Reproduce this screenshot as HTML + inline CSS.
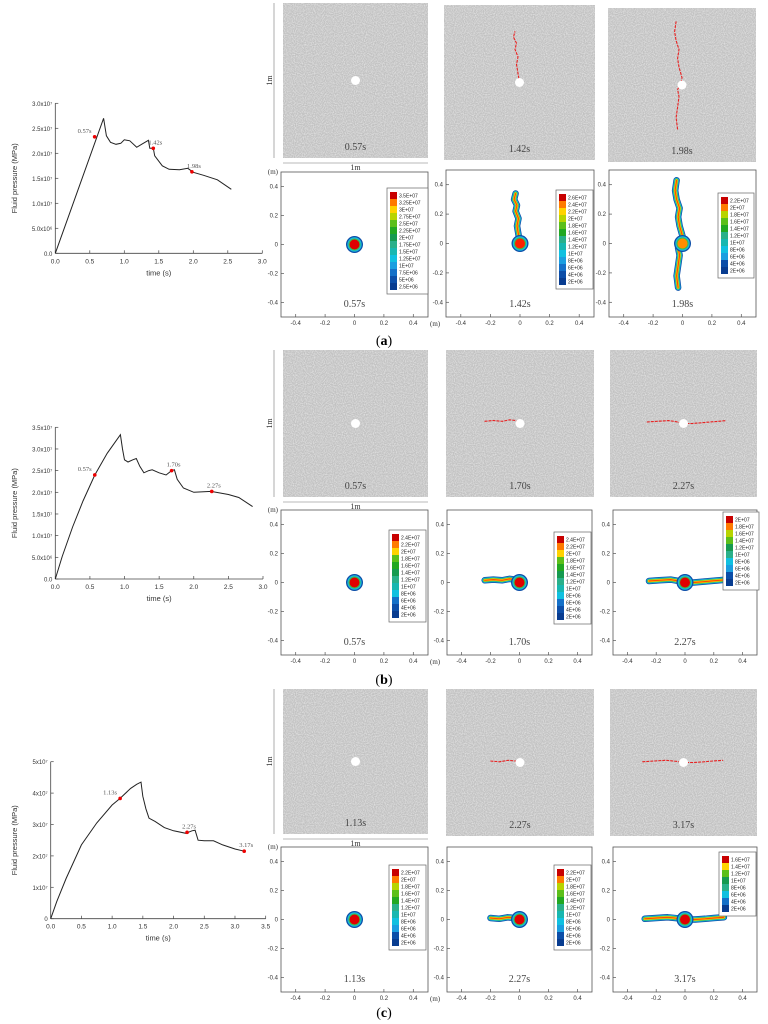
<!DOCTYPE html>
<html><head><meta charset="utf-8"><style>
html,body{margin:0;padding:0;background:#fff;}
svg{display:block;font-family:"Liberation Sans",sans-serif;}
.serif{font-family:"Liberation Serif",serif;}
</style></head><body>
<svg id="fig" width="768" height="1024" viewBox="0 0 768 1024" xmlns="http://www.w3.org/2000/svg">
<defs>
<filter id="grain" x="0" y="0" width="100%" height="100%">
<feTurbulence type="fractalNoise" baseFrequency="0.9" numOctaves="1" seed="3" result="n"/>
<feColorMatrix in="n" type="matrix" values="0 0 0 0 0.85  0 0 0 0 0.85  0 0 0 0 0.85  0 0 0 1.6 -0.6" result="c"/>
<feComposite in="c" in2="SourceGraphic" operator="in" result="d"/>
<feMerge><feMergeNode in="SourceGraphic"/><feMergeNode in="d"/></feMerge>
</filter>
</defs>
<text x="384" y="345" text-anchor="middle" font-size="14" class="serif">(<tspan font-weight="bold">a</tspan>)</text>
<text x="384" y="684" text-anchor="middle" font-size="14" class="serif">(<tspan font-weight="bold">b</tspan>)</text>
<text x="384" y="1017" text-anchor="middle" font-size="14" class="serif">(<tspan font-weight="bold">c</tspan>)</text>
</svg>
<script>
// ---- Line chart data (pressure in 1e7 Pa) ----
const timeA=[0,0.70,0.74,0.80,0.88,0.95,1.00,1.08,1.18,1.25,1.35,1.37,1.42,1.44,1.55,1.65,1.80,1.92,2.00,2.15,2.35,2.55];
const presA=[0,2.70,2.35,2.22,2.18,2.20,2.27,2.25,2.12,2.18,2.26,2.10,2.10,1.95,1.75,1.68,1.67,1.70,1.62,1.56,1.47,1.28];
const markTA=[0.57,1.42,1.98];
const markPA=[2.33,2.10,1.63];
const markLA=["0.57s","1.42s","1.98s"];
const yTicksA=["0.0","5.0x10⁶","1.0x10⁷","1.5x10⁷","2.0x10⁷","2.5x10⁷","3.0x10⁷"];
const yValsA=[0,0.5,1,1.5,2,2.5,3];
const xTicksA=[0,0.5,1,1.5,2,2.5,3];

const timeB=[0,0.10,0.25,0.40,0.57,0.75,0.94,0.97,1.00,1.05,1.12,1.17,1.22,1.28,1.35,1.40,1.50,1.60,1.68,1.72,1.76,1.85,2.00,2.25,2.50,2.65,2.85];
const presB=[0,0.52,1.20,1.80,2.40,2.90,3.33,3.00,2.75,2.70,2.75,2.78,2.60,2.45,2.50,2.52,2.45,2.40,2.50,2.52,2.30,2.10,2.00,2.02,1.95,1.88,1.67];
const markTB=[0.57,1.68,2.26];
const markPB=[2.40,2.50,2.02];
const markLB=["0.57s","1.70s","2.27s"];
const yTicksB=["0.0","5.0x10⁶","1.0x10⁷","1.5x10⁷","2.0x10⁷","2.5x10⁷","3.0x10⁷","3.5x10⁷"];
const yValsB=[0,0.5,1,1.5,2,2.5,3,3.5];
const xTicksB=[0,0.5,1,1.5,2,2.5,3];

const timeC=[0,0.10,0.25,0.50,0.75,1.00,1.13,1.30,1.40,1.47,1.50,1.55,1.60,1.70,1.85,2.00,2.20,2.30,2.35,2.40,2.50,2.65,2.80,3.00,3.15];
const presC=[0,0.55,1.28,2.35,3.05,3.62,3.83,4.15,4.28,4.35,3.90,3.50,3.20,3.10,2.90,2.80,2.72,2.80,2.82,2.50,2.48,2.48,2.35,2.22,2.15];
const markTC=[1.13,2.22,3.15];
const markPC=[3.83,2.75,2.15];
const markLC=["1.13s","2.27s","3.17s"];
const yTicksC=["0","1x10⁷","2x10⁷","3x10⁷","4x10⁷","5x10⁷"];
const yValsC=[0,1,2,3,4,5];
const xTicksC=[0,0.5,1,1.5,2,2.5,3,3.5];

// ---- Colorbar labels ----
const cbA1=["3.5E+07","3.25E+07","3E+07","2.75E+07","2.5E+07","2.25E+07","2E+07","1.75E+07","1.5E+07","1.25E+07","1E+07","7.5E+06","5E+06","2.5E+06"];
const cbA2=["2.6E+07","2.4E+07","2.2E+07","2E+07","1.8E+07","1.6E+07","1.4E+07","1.2E+07","1E+07","8E+06","6E+06","4E+06","2E+06"];
const cbA3=["2.2E+07","2E+07","1.8E+07","1.6E+07","1.4E+07","1.2E+07","1E+07","8E+06","6E+06","4E+06","2E+06"];
const cbB1=["2.4E+07","2.2E+07","2E+07","1.8E+07","1.6E+07","1.4E+07","1.2E+07","1E+07","8E+06","6E+06","4E+06","2E+06"];
const cbB3=["2E+07","1.8E+07","1.6E+07","1.4E+07","1.2E+07","1E+07","8E+06","6E+06","4E+06","2E+06"];
const cbC1=["2.2E+07","2E+07","1.8E+07","1.6E+07","1.4E+07","1.2E+07","1E+07","8E+06","6E+06","4E+06","2E+06"];
const cbC3=["1.6E+07","1.4E+07","1.2E+07","1E+07","8E+06","6E+06","4E+06","2E+06"];

// ---- Crack paths (m) ----
const crackA2x=[0,-0.01,-0.02,-0.01,-0.03,-0.02,-0.04,-0.03];
const crackA2y=[0,0.06,0.12,0.17,0.22,0.26,0.30,0.34];
const crackA3x=[-0.03,-0.04,-0.03,-0.02,-0.03,-0.01,0,-0.02,-0.03,-0.02,-0.04,-0.05,-0.04];
const crackA3y=[-0.30,-0.22,-0.15,-0.08,-0.03,0,0.05,0.12,0.18,0.24,0.30,0.36,0.43];
const crackB2x=[-0.24,-0.18,-0.12,-0.07,-0.03,0];
const crackB2y=[0.015,0.02,0.015,0.025,0.02,0];
const crackB3x=[-0.25,-0.18,-0.10,-0.05,0,0.06,0.12,0.18,0.24,0.29];
const crackB3y=[0.01,0.015,0.02,0.012,0,0.0,0.005,0.01,0.015,0.02];
const crackC2x=[-0.20,-0.14,-0.08,-0.03,0];
const crackC2y=[0.01,0.005,0.015,0.01,0];
const crackC3x=[-0.28,-0.20,-0.12,-0.05,0,0.07,0.14,0.20,0.27];
const crackC3y=[0.005,0.01,0.015,0.008,0,0.0,0.005,0.01,0.015];

const NS="http://www.w3.org/2000/svg";
const svg=document.getElementById('fig');
function el(tag,attrs,parent,text){const e=document.createElementNS(NS,tag);for(const k in attrs)e.setAttribute(k,attrs[k]);if(text!==undefined)e.textContent=text;(parent||svg).appendChild(e);return e;}

function lineChart(cfg){
  const g=el('g',{});
  
  
  const sx=t=>cfg.x0+(t-0)/(cfg.xmax)*(cfg.x1-cfg.x0);
  const sy=v=>cfg.y0-(v/cfg.ymax)*(cfg.y0-cfg.y1);
  el('line',{x1:cfg.x0,y1:cfg.y0,x2:cfg.x1,y2:cfg.y0,stroke:'#444','stroke-width':0.8},g);
  el('line',{x1:cfg.x0,y1:cfg.y0,x2:cfg.x0,y2:cfg.y1,stroke:'#444','stroke-width':0.8},g);
  cfg.xt.forEach(t=>{
    el('line',{x1:sx(t),y1:cfg.y0,x2:sx(t),y2:cfg.y0-3,stroke:'#444','stroke-width':0.7},g);
    const tl=el('text',{x:sx(t),y:cfg.y0+10,'text-anchor':'middle','font-size':6.5,fill:'#333'},g,t.toFixed(1));
    
    
  });
  cfg.yv.forEach((v,i)=>{
    el('line',{x1:cfg.x0,y1:sy(v),x2:cfg.x0+3,y2:sy(v),stroke:'#444','stroke-width':0.7},g);
    const tl=el('text',{x:cfg.x0-3,y:sy(v)+2.5,'text-anchor':'end','font-size':6,fill:'#333'},g,cfg.yl[i]);
    
    
  });
  const xt=el('text',{x:(cfg.x0+cfg.x1)/2,y:cfg.y0+22,'text-anchor':'middle','font-size':7.5,fill:'#333'},g,'time (s)');
  
  
  const cy=(cfg.y0+cfg.y1)/2;
  const yt=el('text',{x:17,y:cy,'text-anchor':'middle','font-size':7.5,fill:'#333',transform:`rotate(-90 17 ${cy})`},g,'Fluid pressure (MPa)');
  
  
  const pts=cfg.t.map((t,i)=>sx(t).toFixed(1)+','+sy(cfg.p[i]).toFixed(1)).join(' ');
  const pl=el('polyline',{points:pts,fill:'none',stroke:'#222','stroke-width':1},g);
  
  
  cfg.mt.forEach((t,i)=>{
    const c=el('circle',{cx:sx(t),cy:sy(cfg.mp[i]),r:1.8,fill:'#e00'},g);
    
    
    const l=el('text',{x:sx(t)-2+(i?4:-8),y:sy(cfg.mp[i])-4,'text-anchor':'middle','font-size':6.5,fill:'#555','class':'serif'},g,cfg.ml[i]);
    
    
  });
}
lineChart({name:'pressure-chart-a',x0:55.3,x1:262.3,y0:253.3,y1:103.3,xmax:3,ymax:3,t:timeA,p:presA,mt:markTA,mp:markPA,ml:markLA,xt:xTicksA,yv:yValsA,yl:yTicksA});
lineChart({name:'pressure-chart-b',x0:55.3,x1:263,y0:579,y1:427.3,xmax:3,ymax:3.5,t:timeB,p:presB,mt:markTB,mp:markPB,ml:markLB,xt:xTicksB,yv:yValsB,yl:yTicksB});
lineChart({name:'pressure-chart-c',x0:50.7,x1:265.7,y0:918.7,y1:761.7,xmax:3.5,ymax:5,t:timeC,p:presC,mt:markTC,mp:markPC,ml:markLC,xt:xTicksC,yv:yValsC,yl:yTicksC});

const cols=['#c80000','#ff7a00','#ffd200','#b8d400','#5cbf1a','#22a822','#169a50','#2ab08a','#18b7b0','#10c0e0','#1a9ee0','#1470c8','#0c4ea8','#083c90'];

function square(x0,y0,x1,y1,label,cx,cy,name,first){
  const g=el('g',{});
  
  
  el('rect',{x:x0,y:y0,width:x1-x0,height:y1-y0,fill:'#c2c2c2',filter:'url(#grain)'},g);
  const s=(x1-x0), mx=(x0+x1)/2, my=(y0+y1)/2;
  if(cx){
    const pts=cx.map((v,i)=>(mx+v*s).toFixed(1)+','+(my-cy[i]*s).toFixed(1)).join(' ');
    const c=el('polyline',{points:pts,fill:'none',stroke:'#e82020','stroke-width':1.1,'stroke-dasharray':'3 1'},g);
    
    
  }
  el('circle',{cx:mx,cy:my,r:4.5,fill:'#fff'},g);
  const t=el('text',{x:mx,y:y1-8,'text-anchor':'middle','font-size':10,fill:'#444','class':'serif'},g,label);
  
  
  if(first){
    el('line',{x1:x0-9,y1:y0,x2:x0-9,y2:y1,stroke:'#777','stroke-width':0.6},g);
    el('line',{x1:x0,y1:y1+5,x2:x1,y2:y1+5,stroke:'#777','stroke-width':0.6},g);
    const a=el('text',{x:mx,y:y1+12,'text-anchor':'middle','font-size':8,fill:'#333','class':'serif'},g,'1m');
    
    
    const b=el('text',{x:x0-11,y:my,'text-anchor':'middle','font-size':8,fill:'#333','class':'serif',transform:`rotate(-90 ${x0-11} ${my})`},g,'1m');
    
    
  }
}

function contour(x0,y0,x1,y1,label,cx,cy,cb,cbx,cby,cbw,name,first,core){
  const g=el('g',{});
  
  
  el('rect',{x:x0,y:y0,width:x1-x0,height:y1-y0,fill:'#fff',stroke:'#555','stroke-width':0.8},g);
  const sx=v=>x0+(v+0.5)*(x1-x0), sy=v=>y1-(v+0.5)*(y1-y0);
  [-0.4,-0.2,0,0.2,0.4].forEach(v=>{
    el('line',{x1:sx(v),y1:y1,x2:sx(v),y2:y1-3,stroke:'#555','stroke-width':0.7},g);
    el('line',{x1:x0,y1:sy(v),x2:x0+3,y2:sy(v),stroke:'#555','stroke-width':0.7},g);
    el('text',{x:sx(v),y:y1+8,'text-anchor':'middle','font-size':6,fill:'#333'},g,v===0?'0':v.toFixed(1));
    el('text',{x:x0-3,y:sy(v)+2,'text-anchor':'end','font-size':6,fill:'#333'},g,v===0?'0':v.toFixed(1));
  });
  if(first){
    el('text',{x:x0-3,y:y0+2,'text-anchor':'end','font-size':7,fill:'#333','class':'serif'},g,'(m)');
    el('text',{x:x1+2,y:y1+9,'font-size':7,fill:'#333','class':'serif'},g,'(m)');
  }
  const ws=[6.5,5,3.6,2.4,1.2];const wc=['#0c4ea8','#18b7e0','#3cc04a','#ffd200','#ff4a00'];
  if(cx){
    const pts=cx.map((v,i)=>sx(v).toFixed(1)+','+sy(cy[i]).toFixed(1)).join(' ');
    ws.forEach((w,k)=>{const p=el('polyline',{points:pts,fill:'none',stroke:wc[k],'stroke-width':w,'stroke-linejoin':'round','stroke-linecap':'round'},g);
      
      });
  }
  [[8.5,'#0c4ea8'],[7.2,'#18b7e0'],[6,'#3cc04a'],[5,core]].forEach(([r,c])=>el('circle',{cx:sx(0),cy:sy(0),r:r,fill:c},g));
  const t=el('text',{x:sx(0),y:y1-10,'text-anchor':'middle','font-size':10,fill:'#444','class':'serif'},g,label);
  
  
  const lg=el('g',{},g);
  
  
  const rh=7;
  el('rect',{x:cbx,y:cby,width:cbw,height:cb.length*rh+8,fill:'#fff',stroke:'#666','stroke-width':0.7},lg);
  cb.forEach((s,i)=>{
    const ci=Math.round(i*(cols.length-1)/Math.max(1,cb.length-1));
    el('rect',{x:cbx+3,y:cby+4+i*rh,width:7,height:rh,fill:cols[ci]},lg);
    el('text',{x:cbx+12,y:cby+4+i*rh+5.5,'font-size':5,fill:'#222'},lg,s);
  });
}

// Row a
square(283,3,428,158,'0.57s',null,null,'sim-square-a1',true);
square(444,5,595,160,'1.42s',crackA2x,crackA2y,'sim-square-a2');
square(608,8,756,162,'1.98s',crackA3x,crackA3y,'sim-square-a3');
contour(281,172,428,317,'0.57s',null,null,cbA1,387,188,41,'contour-a1',true,'#e00000');
contour(446,170,594,317,'1.42s',crackA2x,crackA2y,cbA2,556,190,37,'contour-a2',false,'#ff2000');
contour(609,170,756,317,'1.98s',crackA3x,crackA3y,cbA3,718,193,36,'contour-a3',false,'#ff8c00');
// Row b
square(283,350,428,497,'0.57s',null,null,'sim-square-b1',true);
square(446,350,594,497,'1.70s',crackB2x,crackB2y,'sim-square-b2');
square(610,350,757,497,'2.27s',crackB3x,crackB3y,'sim-square-b3');
contour(281,510,428,655,'0.57s',null,null,cbB1,389,530,37,'contour-b1',true,'#e00000');
contour(447,510,592,655,'1.70s',crackB2x,crackB2y,cbB1,554,532,37,'contour-b2',false,'#e00000');
contour(613,510,757,655,'2.27s',crackB3x,crackB3y,cbB3,723,512,36,'contour-b3',false,'#e00000');
// Row c
square(283,689,428,834,'1.13s',null,null,'sim-square-c1',true);
square(446,689,594,836,'2.27s',crackC2x,crackC2y,'sim-square-c2');
square(610,689,757,836,'3.17s',crackC3x,crackC3y,'sim-square-c3');
contour(281,847,428,992,'1.13s',null,null,cbC1,389,865,37,'contour-c1',true,'#e00000');
contour(447,847,592,992,'2.27s',crackC2x,crackC2y,cbC1,554,865,37,'contour-c2',false,'#e00000');
contour(613,847,757,992,'3.17s',crackC3x,crackC3y,cbC3,719,852,37,'contour-c3',false,'#e00000');
</script>
</body></html>
